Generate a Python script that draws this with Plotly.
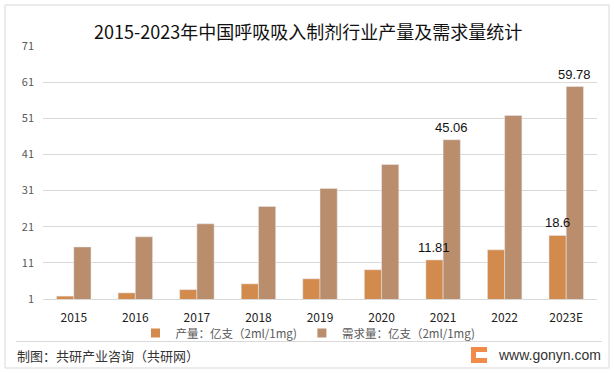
import plotly.graph_objects as go

years = ["2015", "2016", "2017", "2018", "2019", "2020", "2021", "2022", "2023E"]
production = [1.8, 2.7, 3.6, 5.2, 6.6, 9.1, 11.81, 14.6, 18.6]
demand = [15.4, 18.2, 21.8, 26.6, 31.6, 38.2, 45.06, 51.8, 59.78]
prod_label_years = ["2021", "2023E"]
demand_label_years = ["2021", "2023E"]
y_ticks = [1, 11, 21, 31, 41, 51, 61, 71]

title = "2015-2023年中国呼吸吸入制剂行业产量及需求量统计"
name_prod = "产量：亿支（2ml/1mg)"
name_demand = "需求量：亿支（2ml/1mg)"
source = "制图：共研产业咨询（共研网）"
site = "www.gonyn.com"

C_PROD = "#D38B4D"
C_DEM = "#BA8D6C"
FONT = "Noto Sans CJK SC"

W, H = 614, 373
L, R, T, B = 43, 17, 46, 74
PW, PH = W - L - R, H - T - B
BARGAP = 0.44
HALF_BAR = PW / len(years) * (1 - BARGAP) / 4


def px(x):
    return (x - L) / PW


def py(y):
    return (H - B - y) / PH


fig = go.Figure()
fig.add_trace(go.Bar(x=years, y=production, name=name_prod, marker_color=C_PROD, showlegend=False))
fig.add_trace(go.Bar(x=years, y=demand, name=name_demand, marker_color=C_DEM, showlegend=False))
for nm, col in [(name_prod, C_PROD), (name_demand, C_DEM)]:
    fig.add_trace(go.Scatter(x=[years[0]], y=[None], mode="markers", name=nm,
                             marker=dict(symbol="square", size=9, color=col)))

shapes = [
    dict(type="rect", xref="paper", yref="paper", x0=px(5), x1=px(609), y0=py(368), y1=py(5),
         line=dict(color="#D9D9D9", width=1), fillcolor="rgba(0,0,0,0)", layer="below"),
    dict(type="line", xref="paper", yref="paper", x0=px(16), x1=px(602), y0=py(341.5), y1=py(341.5),
         line=dict(color="#D9D9D9", width=1)),
    dict(type="rect", xref="paper", yref="paper", x0=px(471), x1=px(487), y0=py(363), y1=py(347),
         line=dict(width=0), fillcolor="#F28B4A"),
    dict(type="rect", xref="paper", yref="paper", x0=px(476), x1=px(487), y0=py(358), y1=py(352),
         line=dict(width=0), fillcolor="#FFFFFF"),
]

annotations = [
    dict(text=title, xref="paper", yref="paper", x=px(308), y=py(31), showarrow=False,
         xanchor="center", yanchor="middle", font=dict(size=18, color="#111", family=FONT)),
    dict(text=source, xref="paper", yref="paper", x=px(15), y=py(355), showarrow=False,
         xanchor="left", yanchor="middle", font=dict(size=13, color="#333", family=FONT)),
    dict(text=site, xref="paper", yref="paper", x=px(603), y=py(355), showarrow=False,
         xanchor="right", yanchor="middle", font=dict(size=14, color="#333", family="Liberation Sans")),
]
for vals, show, shift in [(production, prod_label_years, -HALF_BAR), (demand, demand_label_years, HALF_BAR)]:
    for i, (yr, v) in enumerate(zip(years, vals)):
        if yr in show:
            annotations.append(dict(text=f"{v:g}", x=i, y=v, xref="x", yref="y", showarrow=False,
                                    xanchor="center", yanchor="bottom", xshift=shift, yshift=3,
                                    font=dict(size=13, color="#111", family="Liberation Sans")))

fig.update_layout(
    width=W, height=H,
    margin=dict(l=L, r=R, t=T, b=B, pad=0),
    paper_bgcolor="white", plot_bgcolor="white",
    barmode="group", bargap=BARGAP, bargroupgap=0,
    showlegend=True,
    legend=dict(orientation="h", x=px(308), xanchor="center", y=py(333), yanchor="middle",
                font=dict(size=11.5, color="#595959", family=FONT), itemwidth=30,
                bgcolor="rgba(0,0,0,0)", tracegroupgap=0),
    shapes=shapes, annotations=annotations,
    font=dict(family=FONT),
)
fig.update_xaxes(type="category", categoryorder="array", categoryarray=years,
                 range=[-0.5, len(years) - 0.5],
                 showline=True, linecolor="#D9D9D9", linewidth=1, showgrid=False, ticks="",
                 tickfont=dict(size=12, color="#222", family=FONT), ticklabelstandoff=8)
fig.update_yaxes(range=[1, 71], tickvals=y_ticks, showgrid=True, gridcolor="#D9D9D9", gridwidth=1,
                 zeroline=False, showline=False, ticks="",
                 tickfont=dict(size=11, color="#595959", family=FONT), ticklabelstandoff=8)

fig.write_html("out.html", config={"displayModeBar": False},
               post_script="document.body.style.margin='0px';")
